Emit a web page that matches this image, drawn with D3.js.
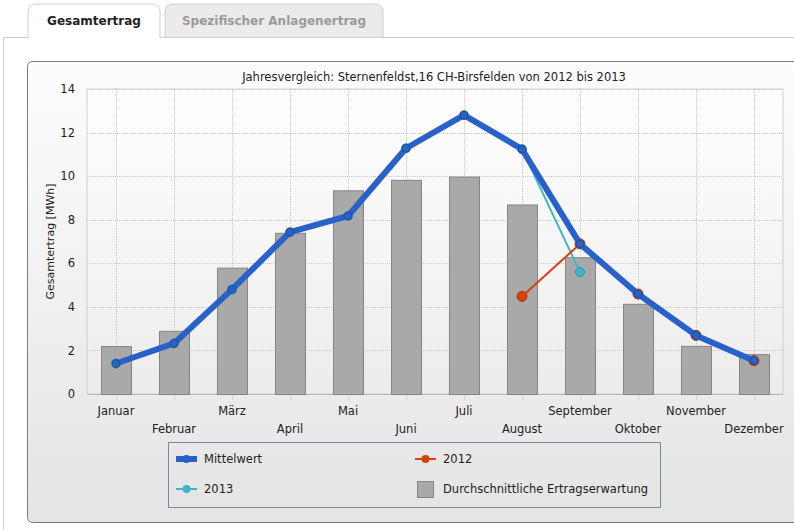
<!DOCTYPE html>
<html lang="de">
<head>
<meta charset="utf-8" />
<script src="https://d3js.org/d3.v7.min.js"></script>
<style>
  body { margin: 0; background: #fff; }
  svg text { font-family: "DejaVu Sans", sans-serif; }
</style>
</head>
<body>
<script>
  const w = 794, h = 530;

  // data
  const months = ["Januar", "Februar", "März", "April", "Mai", "Juni", "Juli",
                  "August", "September", "Oktober", "November", "Dezember"];
  const expected = [2.2, 2.9, 5.8, 7.4, 9.35, 9.83, 9.98, 8.7, 6.28, 4.14, 2.21, 1.83];
  const mean = [1.4, 2.32, 4.8, 7.43, 8.17, 11.28, 12.8, 11.24, 6.89, 4.59, 2.69, 1.53];
  const y2012 = [null, null, null, null, null, null, null, 4.48, 6.89, 4.59, 2.69, 1.53];
  const y2013 = [1.4, 2.32, 4.8, 7.43, 8.17, 11.28, 12.8, 11.24, 5.6, null, null, null];
  const yTicks = [0, 2, 4, 6, 8, 10, 12, 14];

  const plot = { left: 87, right: 783, top: 89, bottom: 394 };

  const svg = d3.select("body").append("svg")
    .attr("width", w).attr("height", h);

  const defs = svg.append("defs");
  const g1 = defs.append("linearGradient").attr("id", "panelGrad")
    .attr("x1", 0).attr("y1", 0).attr("x2", 0).attr("y2", 1);
  g1.append("stop").attr("offset", "0%").attr("stop-color", "#fdfdfd");
  g1.append("stop").attr("offset", "100%").attr("stop-color", "#e4e4e4");
  const g2 = defs.append("linearGradient").attr("id", "plotGrad")
    .attr("x1", 0).attr("y1", 0).attr("x2", 0).attr("y2", 1);
  g2.append("stop").attr("offset", "0%").attr("stop-color", "#ffffff");
  g2.append("stop").attr("offset", "100%").attr("stop-color", "#ececec");

  // tabs
  svg.append("path")
    .attr("d", "M165,38 L165,12 Q165,4 173,4 L375,4 Q383,4 383,12 L383,38")
    .attr("fill", "#ebebeb").attr("stroke", "#cfcfcf");
  svg.append("line").attr("x1", 3).attr("x2", w).attr("y1", 37.5).attr("y2", 37.5)
    .attr("stroke", "#cfcfcf");
  svg.append("line").attr("x1", 3.5).attr("x2", 3.5).attr("y1", 37.5).attr("y2", h)
    .attr("stroke", "#cfcfcf");
  svg.append("path")
    .attr("d", "M28,38 L28,12 Q28,4 36,4 L152,4 Q160,4 160,12 L160,38")
    .attr("fill", "#fff").attr("stroke", "#cfcfcf");
  svg.append("text").attr("x", 94).attr("y", 25).attr("text-anchor", "middle")
    .attr("font-size", 12).attr("font-weight", "bold").attr("fill", "#222")
    .text("Gesamtertrag");
  svg.append("text").attr("x", 274).attr("y", 25).attr("text-anchor", "middle")
    .attr("font-size", 12).attr("font-weight", "bold").attr("fill", "#9a9a9a")
    .text("Spezifischer Anlagenertrag");

  // chart panel
  svg.append("rect").attr("x", 27.5).attr("y", 61.5).attr("width", 790).attr("height", 461)
    .attr("rx", 5).attr("fill", "url(#panelGrad)").attr("stroke", "#7a7a7a");

  svg.append("text").attr("x", 434).attr("y", 81).attr("text-anchor", "middle")
    .attr("font-size", 11.5).attr("fill", "#222")
    .text("Jahresvergleich: Sternenfeldst,16 CH-Birsfelden von 2012 bis 2013");

  const x = d3.scaleBand().domain(months).range([plot.left, plot.right]);
  const y = d3.scaleLinear().domain([0, 14]).range([plot.bottom, plot.top]);
  const cx = m => x(m) + x.bandwidth() / 2;

  svg.append("rect").attr("x", plot.left).attr("y", plot.top)
    .attr("width", plot.right - plot.left).attr("height", plot.bottom - plot.top)
    .attr("fill", "url(#plotGrad)").attr("stroke", "#cfcfcf");

  // grid
  svg.append("g").selectAll("line").data(yTicks.slice(1)).join("line")
    .attr("x1", plot.left).attr("x2", plot.right)
    .attr("y1", d => Math.round(y(d)) + 0.5).attr("y2", d => Math.round(y(d)) + 0.5)
    .attr("stroke", "#c8c8c8").attr("stroke-dasharray", "1,1");
  svg.append("g").selectAll("line").data(months).join("line")
    .attr("x1", d => Math.round(cx(d)) + 0.5).attr("x2", d => Math.round(cx(d)) + 0.5)
    .attr("y1", plot.top).attr("y2", plot.bottom + 6)
    .attr("stroke", "#c8c8c8").attr("stroke-dasharray", "1,1");

  // y axis
  const yAxis = d3.axisLeft(y).tickValues(yTicks).tickSize(0).tickPadding(12);
  const ya = svg.append("g").attr("transform", `translate(${plot.left},0)`).call(yAxis);
  ya.select(".domain").remove();
  ya.selectAll("text").attr("font-size", 11.5).attr("fill", "#222")
    .style("font-family", "DejaVu Sans, sans-serif");

  svg.append("text")
    .attr("transform", `translate(54,${(plot.top + plot.bottom) / 2}) rotate(-90)`)
    .attr("text-anchor", "middle").attr("font-size", 11).attr("fill", "#222")
    .text("Gesamtertrag [MWh]");

  // x axis
  svg.append("line").attr("x1", plot.left).attr("x2", plot.right)
    .attr("y1", plot.bottom + 0.5).attr("y2", plot.bottom + 0.5).attr("stroke", "#b8b8b8");
  svg.append("g").selectAll("text").data(months).join("text")
    .attr("x", d => cx(d))
    .attr("y", (d, i) => i % 2 === 0 ? 415 : 433)
    .attr("text-anchor", "middle").attr("font-size", 11.5).attr("fill", "#222")
    .text(d => d);

  // bars
  const bw = 30;
  svg.append("g").selectAll("rect").data(expected).join("rect")
    .attr("x", (d, i) => cx(months[i]) - bw / 2 + 0.5)
    .attr("y", d => y(d) + 0.5)
    .attr("width", bw).attr("height", d => plot.bottom - y(d))
    .attr("fill", "#a9a9a9").attr("stroke", "#858585");

  function series(vals, color, lw, r, stroke) {
    const pts = vals.map((v, i) => ({ m: months[i], v })).filter(p => p.v !== null);
    const line = d3.line().x(p => cx(p.m)).y(p => y(p.v));
    svg.append("path").datum(pts).attr("d", line)
      .attr("fill", "none").attr("stroke", color).attr("stroke-width", lw)
      .attr("stroke-linejoin", "round").attr("stroke-linecap", "round");
    svg.append("g").selectAll("circle").data(pts).join("circle")
      .attr("cx", p => cx(p.m)).attr("cy", p => y(p.v)).attr("r", r)
      .attr("fill", color).attr("stroke", stroke).attr("stroke-width", 1);
  }
  series(y2013, "#3fb6c6", 2, 4.5, "#2a95a5");
  series(y2012, "#d5420c", 2, 5, "#b83000");
  series(mean, "#2862c8", 6, 4, "#1f4f9a");

  // legend
  svg.append("rect").attr("x", 168.5).attr("y", 442.5).attr("width", 492).attr("height", 65)
    .attr("fill", "none").attr("stroke", "#7a8a9a");
  const legend = [
    { name: "Mittelwert", color: "#2862c8", lw: 6, x: 176, y: 459 },
    { name: "2012", color: "#d5420c", lw: 2, x: 415, y: 459 },
    { name: "2013", color: "#3fb6c6", lw: 2, x: 176, y: 489 },
    { name: "Durchschnittliche Ertragserwartung", bar: true, x: 415, y: 489 }
  ];
  const lg = svg.append("g").selectAll("g").data(legend).join("g");
  lg.each(function (d) {
    const s = d3.select(this);
    if (d.bar) {
      s.append("rect").attr("x", d.x + 2.5).attr("y", d.y - 7.5).attr("width", 16).attr("height", 16)
        .attr("fill", "#a9a9a9").attr("stroke", "#858585");
    } else {
      s.append("line").attr("x1", d.x).attr("x2", d.x + 21).attr("y1", d.y).attr("y2", d.y)
        .attr("stroke", d.color).attr("stroke-width", d.lw);
      s.append("circle").attr("cx", d.x + 10.5).attr("cy", d.y).attr("r", 4).attr("fill", d.color);
    }
    s.append("text").attr("x", d.x + 28).attr("y", d.y + 4)
      .attr("font-size", 11.5).attr("fill", "#222").text(d.name);
  });
</script>
</body>
</html>
